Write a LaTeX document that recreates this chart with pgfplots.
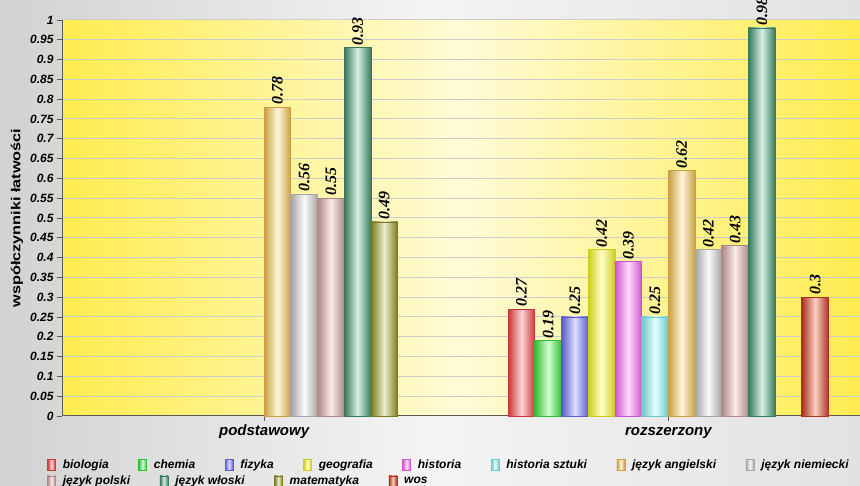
\documentclass[border=0pt]{standalone}
\usepackage{fontspec}
\setmainfont{Liberation Sans}
\newfontfamily\valfont{Liberation Serif}
\newfontfamily\labfont[FakeStretch=1.25]{Liberation Sans}
\usepackage{pgfplots}
\pgfplotsset{compat=1.18}

\definecolor{bgL}{RGB}{210,210,210}
\definecolor{bgM}{RGB}{244,244,244}
\definecolor{bgR}{RGB}{226,226,226}
\definecolor{plY}{RGB}{255,236,80}
\definecolor{plM}{RGB}{255,251,214}

\definecolor{cBioD}{RGB}{204,54,58}   \definecolor{cBioL}{RGB}{255,212,212}
\definecolor{cCheD}{RGB}{50,190,50}   \definecolor{cCheL}{RGB}{214,255,214}
\definecolor{cFizD}{RGB}{90,90,205}   \definecolor{cFizL}{RGB}{222,222,255}
\definecolor{cGeoD}{RGB}{205,205,30}  \definecolor{cGeoL}{RGB}{255,255,200}
\definecolor{cHisD}{RGB}{205,85,205}  \definecolor{cHisL}{RGB}{255,220,255}
\definecolor{cHszD}{RGB}{105,200,200} \definecolor{cHszL}{RGB}{228,255,255}
\definecolor{cAngD}{RGB}{200,160,64}  \definecolor{cAngL}{RGB}{255,246,218}
\definecolor{cNieD}{RGB}{165,165,165} \definecolor{cNieL}{RGB}{250,250,250}
\definecolor{cPolD}{RGB}{175,135,135} \definecolor{cPolL}{RGB}{250,236,236}
\definecolor{cWloD}{RGB}{58,122,92}   \definecolor{cWloL}{RGB}{216,240,228}
\definecolor{cMatD}{RGB}{122,122,30}  \definecolor{cMatL}{RGB}{238,238,208}
\definecolor{cWosD}{RGB}{170,50,30}   \definecolor{cWosL}{RGB}{250,210,195}

\pgfplotsset{
  lg/.style={legend image code/.code={%
    \draw[##1,line width=0.6pt] (0pt,-5.5pt) rectangle (8pt,5.5pt);}},
  sty/.style={draw=#1D, line width=0.8pt, left color=#1D, right color=#1D, middle color=#1L, lg},
  legfont/.style={legend style={draw=none, fill=none, inner sep=0pt,
    font=\fontsize{12}{12}\selectfont\bfseries\itshape,
    /tikz/every odd column/.append style={column sep=5pt},
    /tikz/every even column/.append style={column sep=27.5pt}}},
}

\begin{document}
\begin{tikzpicture}
\shade[left color=bgL, right color=bgR, middle color=bgM] (0,0) rectangle (860pt,486pt);
\begin{axis}[
  at={(62pt,70pt)}, anchor=south west,
  scale only axis, width=798pt, height=396pt,
  clip=false,
  ybar, bar width=26.7pt,
  xmin=-0.5, xmax=1.474, ymin=0, ymax=1,
  xtick={0,1}, xticklabels={podstawowy,rozszerzony},
  ytick={0,0.05,...,1.01},
  axis x line*=bottom, axis y line*=left,
  axis line style={-, draw=black!65, line width=1pt},
  tick align=outside, major tick length=5pt,
  tick style={draw=black!65, line width=0.8pt},
  ymajorgrids, grid style={draw=black!20, line width=1pt},
  axis background/.style={left color=plY, right color=plY, middle color=plM},
  yticklabel style={font=\fontsize{12}{12}\selectfont\bfseries\itshape,
    /pgf/number format/fixed, /pgf/number format/precision=2,
    /pgf/number format/assume math mode=true},
  xticklabel style={font=\fontsize{15}{15}\selectfont\bfseries\itshape,
    text height=11pt, text depth=3pt},
  ylabel={współczynniki łatwości},
  ylabel style={font=\labfont\fontsize{13}{13}\selectfont\bfseries,
    at={(axis description cs:-0.0564,0.5)}, anchor=center},
  nodes near coords,
  nodes near coords style={font=\valfont\fontsize{16}{16}\selectfont\bfseries\itshape,
    rotate=90, anchor=west, text=black, inner sep=2pt,
    /pgf/number format/fixed, /pgf/number format/precision=2,
    /pgf/number format/assume math mode=true},
  legend columns=8, legfont,
  legend style={at={(-0.0188,-0.124)}, anchor=west},
]
% one bar per \addplot so that each bar gets its own shading
\addplot[sty=cBio, bar shift=-146.85pt] coordinates {(1,0.27)};
\addplot[sty=cChe, bar shift=-120.15pt] coordinates {(1,0.19)};
\addplot[sty=cFiz, bar shift=-93.45pt] coordinates {(1,0.25)};
\addplot[sty=cGeo, bar shift=-66.75pt] coordinates {(1,0.42)};
\addplot[sty=cHis, bar shift=-40.05pt] coordinates {(1,0.39)};
\addplot[sty=cHsz, bar shift=-13.35pt] coordinates {(1,0.25)};
\addplot[sty=cAng, bar shift=13.35pt] coordinates {(0,0.78)};
\addplot[sty=cNie, bar shift=40.05pt] coordinates {(0,0.56)};
\addplot[sty=cPol, bar shift=66.75pt] coordinates {(0,0.55)};
\addplot[sty=cWlo, bar shift=93.45pt] coordinates {(0,0.93)};
\addplot[sty=cMat, bar shift=120.15pt] coordinates {(0,0.49)};
\addplot[sty=cWos, bar shift=146.85pt] coordinates {(1,0.3)};
\addplot[sty=cAng, bar shift=13.35pt, forget plot] coordinates {(1,0.62)};
\addplot[sty=cNie, bar shift=40.05pt, forget plot] coordinates {(1,0.42)};
\addplot[sty=cPol, bar shift=66.75pt, forget plot] coordinates {(1,0.43)};
\addplot[sty=cWlo, bar shift=93.45pt, forget plot] coordinates {(1,0.98)};
\legend{biologia,chemia,fizyka,geografia,historia,historia sztuki,język angielski,język niemiecki}
\end{axis}
\begin{axis}[
  at={(62pt,70pt)}, anchor=south west,
  scale only axis, width=798pt, height=396pt,
  hide axis, xmin=0, xmax=1, ymin=0, ymax=1,
  legend columns=4, legfont,
  legend style={at={(-0.0188,-0.165)}, anchor=west},
]
\addlegendimage{sty=cPol}
\addlegendentry{język polski}
\addlegendimage{sty=cWlo}
\addlegendentry{język włoski}
\addlegendimage{sty=cMat}
\addlegendentry{matematyka}
\addlegendimage{sty=cWos}
\addlegendentry{wos}
\end{axis}
\pgfresetboundingbox
\useasboundingbox (0,0) rectangle (860pt,486pt);
\end{tikzpicture}
\end{document}
